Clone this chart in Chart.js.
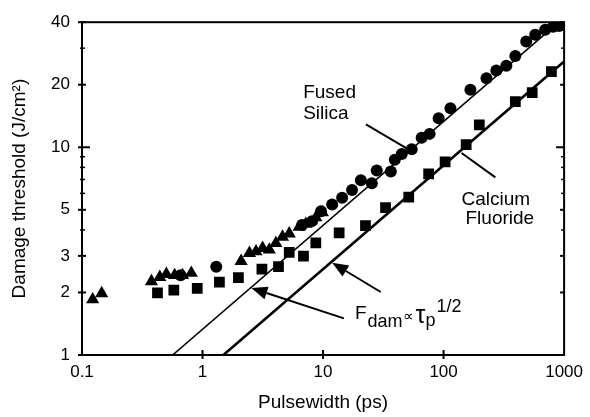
<!DOCTYPE html>
<html><head><meta charset="utf-8">
<script src="https://cdn.jsdelivr.net/npm/chart.js@4/dist/chart.umd.min.js"></script>
<style>html,body{margin:0;padding:0;background:#fff;}#wrap{width:590px;height:417px;}</style>
</head><body><div id="wrap"><canvas id="c" width="590" height="417"></canvas></div>
<script>
// ---- data ----
const xTickLabels = [0.1, 1, 10, 100, 1000];
const yTickLabels = [1, 2, 3, 5, 10, 20, 40];
const yMinorTicks = [4, 6, 7, 8, 9, 30];

const silicaCircles = [[0.658,2.42],[1.30,2.66],[6.70,4.23],[8.11,4.41],[9.62,4.92],[11.9,5.30],[14.4,5.71],[17.4,6.23],[20.6,6.93],[25.4,6.71],[27.9,7.73],[36.5,7.64],[39.4,8.70],[45.0,9.27],[54.4,9.79],[65.8,11.1],[76.6,11.6],[91.0,13.8],[114,15.4],[167,18.9],[227,21.5],[274,23.4],[332,24.7],[394,27.5],[485,32.3],[576,34.8],[697,36.8],[811,38.0],[910,38.4]];
const silicaTriangles = [[0.1226,1.85],[0.1456,1.98],[0.377,2.26],[0.442,2.37],[0.501,2.45],[0.587,2.42],[0.683,2.42],[0.807,2.48],[2.09,2.83],[2.45,3.09],[2.78,3.15],[3.15,3.27],[3.58,3.21],[4.06,3.45],[4.61,3.70],[5.24,3.84],[6.33,4.13],[7.19,4.27],[8.71,4.59],[9.87,4.85]];
const cafSquares = [[0.423,1.99],[0.578,2.05],[0.904,2.09],[1.381,2.24],[1.985,2.36],[3.11,2.59],[4.27,2.66],[5.24,3.12],[6.88,2.99],[8.71,3.47],[13.6,3.87],[22.5,4.20],[33.0,5.12],[51.4,5.75],[75.2,7.45],[103,8.51],[154,10.3],[198,12.8],[394,16.6],[544,18.3],[785,23.1]];
const silicaFit = [[0.565,1],[1000,42.1]];
const cafFit = [[1.49,1],[1000,25.9]];

const pts = a => a.map(([x,y]) => ({x, y}));
const FONT = '"Liberation Sans", Arial, Helvetica, sans-serif';

// annotation anchors in data coordinates
const notes = {
  silicaPointer: [[22.7,12.9],[49.4,9.89]],
  cafPointer: [[141,9.38],[269,7.16]],
  arrow1: [[14.9,1.50],[2.54,2.10]],
  arrow2: [[30.1,2.01],[11.9,2.78]],
  fused: [6.84,18.27], silica: [6.84,14.42],
  calcium: [141,5.59], fluoride: [152,4.51],
  formula: [18.4,1.489]
};

const framePlugin = {
  id: 'frame',
  afterDatasetsDraw(chart) {
    const {ctx, chartArea: a, scales: {x, y}} = chart;
    const line = (x1,y1,x2,y2) => { ctx.beginPath(); ctx.moveTo(x1,y1); ctx.lineTo(x2,y2); ctx.stroke(); };
    const P = ([vx,vy]) => [x.getPixelForValue(vx), y.getPixelForValue(vy)];
    ctx.save();
    ctx.strokeStyle = '#000'; ctx.fillStyle = '#000';
    ctx.lineWidth = 2;
    ctx.strokeRect(a.left, a.top, a.right - a.left, a.bottom - a.top);
    yTickLabels.forEach(v => {
      const p = y.getPixelForValue(v);
      const inner = v === 10 ? 8 : 4;
      line(a.left - 4, p, a.left + inner, p);
      line(a.right - inner, p, a.right, p);
    });
    ctx.lineWidth = 1.5;
    yMinorTicks.forEach(v => {
      const p = y.getPixelForValue(v);
      line(a.left - 2, p, a.left + 3, p);
      line(a.right - 3, p, a.right, p);
    });
    ctx.lineWidth = 2;
    xTickLabels.slice(1, -1).forEach(v => {
      const p = x.getPixelForValue(v);
      line(p, a.bottom - 5, p, a.bottom + 4);
    });
    // pointer lines
    ctx.lineWidth = 2;
    [notes.silicaPointer, notes.cafPointer].forEach(([s,e]) => { const A=P(s), B=P(e); line(A[0],A[1],B[0],B[1]); });
    // arrows
    [notes.arrow1, notes.arrow2].forEach(([s,e]) => {
      const A = P(s), B = P(e);
      const ang = Math.atan2(B[1]-A[1], B[0]-A[0]);
      const L = 16, W = 6.5;
      const bx = B[0] - L*Math.cos(ang), by = B[1] - L*Math.sin(ang);
      line(A[0], A[1], bx, by);
      ctx.beginPath();
      ctx.moveTo(B[0], B[1]);
      ctx.lineTo(bx + W*Math.sin(ang), by - W*Math.cos(ang));
      ctx.lineTo(bx - W*Math.sin(ang), by + W*Math.cos(ang));
      ctx.closePath(); ctx.fill();
    });
    // texts
    ctx.textBaseline = 'middle'; ctx.textAlign = 'left';
    ctx.font = '19px ' + FONT;
    [['Fused', notes.fused], ['Silica', notes.silica], ['Calcium', notes.calcium], ['Fluoride', notes.fluoride]].forEach(([t, p]) => {
      const q = P(p); ctx.fillText(t, q[0], q[1]);
    });
    // formula F_dam ∝ τ_p^(1/2)
    ctx.textBaseline = 'alphabetic';
    let [fx, fy] = P(notes.formula);
    const seg = (t, size, dy, gap) => { ctx.font = size + 'px ' + FONT; ctx.fillText(t, fx, fy + dy); fx += ctx.measureText(t).width + (gap || 0); };
    seg('F', 19, 0, 1);
    seg('dam', 18, 8, 0);
    seg('\u221D', 15, 2, 2);
    seg('\u03C4', 25, 4, 0);
    seg('p', 18, 7, 1);
    seg('1/2', 18, -7, 0);
    ctx.restore();
  }
};

const black = '#000';
new Chart(document.getElementById('c'), {
  type: 'scatter',
  data: {
    datasets: [
      { label: 'Fused silica fit', data: pts(silicaFit), showLine: true, pointRadius: 0, borderColor: black, borderWidth: 1.6 },
      { label: 'CaF2 fit', data: pts(cafFit), showLine: true, pointRadius: 0, borderColor: black, borderWidth: 2.6 },
      { label: 'Fused silica', data: pts(silicaCircles), pointStyle: 'circle', pointRadius: 6, backgroundColor: black, borderColor: black, borderWidth: 0 },
      { label: 'Fused silica (short)', data: pts(silicaTriangles), pointStyle: 'triangle', pointRadius: 7.6, backgroundColor: black, borderColor: black, borderWidth: 0 },
      { label: 'Calcium fluoride', data: pts(cafSquares), pointStyle: 'rect', pointRadius: 7.6, backgroundColor: black, borderColor: black, borderWidth: 0 }
    ]
  },
  options: {
    responsive: false, animation: false, devicePixelRatio: 1,
    layout: { padding: { left: 0, right: 23, top: 12, bottom: 0 } },
    plugins: { legend: { display: false }, tooltip: { enabled: false } },
    scales: {
      x: {
        type: 'logarithmic', min: 0.1, max: 1000,
        afterBuildTicks: s => { s.ticks = xTickLabels.map(v => ({ value: v })); },
        afterFit: s => { s.height = 62; },
        ticks: { callback: v => String(v), color: black, font: { family: FONT, size: 17 }, padding: 7, maxRotation: 0, autoSkip: false },
        grid: { display: false, drawTicks: false },
        border: { display: false },
        title: { display: true, text: 'Pulsewidth (ps)', color: black, font: { family: FONT, size: 19 }, padding: { top: 0, bottom: 3 } }
      },
      y: {
        type: 'logarithmic', min: 1, max: 40,
        afterBuildTicks: s => { s.ticks = yTickLabels.map(v => ({ value: v })); },
        afterFit: s => { s.width = 82; },
        ticks: { callback: v => String(v), color: black, font: { family: FONT, size: 17 }, padding: 12, autoSkip: false },
        grid: { display: false, drawTicks: false },
        border: { display: false },
        title: { display: true, text: 'Damage threshold (J/cm\u00B2)', color: black, font: { family: FONT, size: 19 }, padding: { top: 8, bottom: 0 } }
      }
    }
  },
  plugins: [framePlugin]
});
</script></body></html>
